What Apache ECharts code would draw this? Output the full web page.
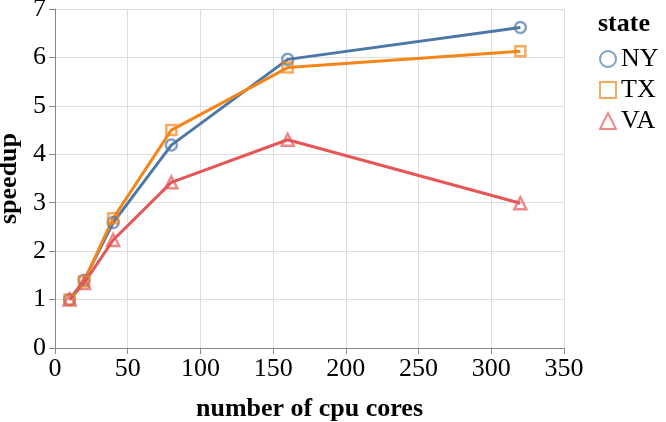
<!DOCTYPE html>
<html>
<head>
<meta charset="utf-8">
<script src="https://cdn.jsdelivr.net/npm/echarts@6/dist/echarts.min.js"></script>
<style>
  html, body { margin: 0; padding: 0; background: #fff; }
  #chart { width: 666px; height: 422px; }
</style>
</head>
<body>
<div id="chart"></div>
<script>
const cores = [10, 20, 40, 80, 160, 320]
const states = ['NY', 'TX', 'VA']
const nySpeedup = [1.0, 1.4, 2.59, 4.19, 5.96, 6.62]
const txSpeedup = [1.0, 1.38, 2.68, 4.5, 5.79, 6.13]
const vaSpeedup = [1.0, 1.34, 2.23, 3.42, 4.3, 2.99]

const colors = { NY: '#4c78a8', TX: '#f58518', VA: '#e45756' }
const symbols = { NY: 'circle', TX: 'rect', VA: 'triangle' }
const values = { NY: nySpeedup, TX: txSpeedup, VA: vaSpeedup }

const font = '"Liberation Serif", "Times New Roman", serif'
const chart = echarts.init(document.getElementById('chart'))

chart.setOption({
  animation: false,
  textStyle: { fontFamily: font },
  grid: { left: 55, right: 102, top: 9, bottom: 74, containLabel: false, outerBoundsMode: 'none' },
  title: {
    text: 'state',
    left: 593,
    top: 6,
    textStyle: { fontFamily: font, fontSize: 26, fontWeight: 'bold', color: '#000' },
  },
  legend: {
    orient: 'vertical',
    left: 594,
    top: 41,
    itemGap: 5,
    itemWidth: 16,
    itemHeight: 16,
    textStyle: { fontFamily: font, fontSize: 26, color: '#000' },
    data: states.map(s => ({
      name: s,
      icon: symbols[s],
      itemStyle: { color: 'transparent', borderColor: colors[s], borderWidth: 2, opacity: 0.7 },
    })),
  },
  xAxis: {
    type: 'value',
    min: 0,
    max: 350,
    interval: 50,
    name: 'number of cpu cores',
    nameLocation: 'middle',
    nameGap: 48,
    nameTextStyle: { fontFamily: font, fontSize: 26, fontWeight: 'bold', color: '#000' },
    axisLine: { show: true, lineStyle: { color: '#888', width: 1 } },
    axisTick: { show: true, length: 6, lineStyle: { color: '#888' } },
    axisLabel: { fontFamily: font, fontSize: 26, color: '#000', margin: 8 },
    splitLine: { show: true, lineStyle: { color: '#ddd', width: 1 } },
  },
  yAxis: {
    type: 'value',
    min: 0,
    max: 7,
    interval: 1,
    name: 'speedup',
    nameLocation: 'middle',
    nameGap: 32,
    nameTextStyle: { fontFamily: font, fontSize: 26, fontWeight: 'bold', color: '#000' },
    axisLine: { show: true, lineStyle: { color: '#888', width: 1 } },
    axisTick: { show: true, length: 6, lineStyle: { color: '#888' } },
    axisLabel: { fontFamily: font, fontSize: 26, color: '#000', margin: 9 },
    splitLine: { show: true, lineStyle: { color: '#ddd', width: 1 } },
  },
  series: states.map(s => ({
    type: 'line',
    name: s,
    data: cores.map((x, i) => [x, values[s][i]]),
    symbol: symbols[s],
    symbolSize: s === 'VA' ? 12 : (s === 'NY' ? 11 : 10),
    showAllSymbol: true,
    lineStyle: { color: colors[s], width: 3 },
    itemStyle: { color: 'transparent', borderColor: colors[s], borderWidth: 2.5, opacity: 0.7 },
    emphasis: { disabled: true },
  })),
})
</script>
</body>
</html>
